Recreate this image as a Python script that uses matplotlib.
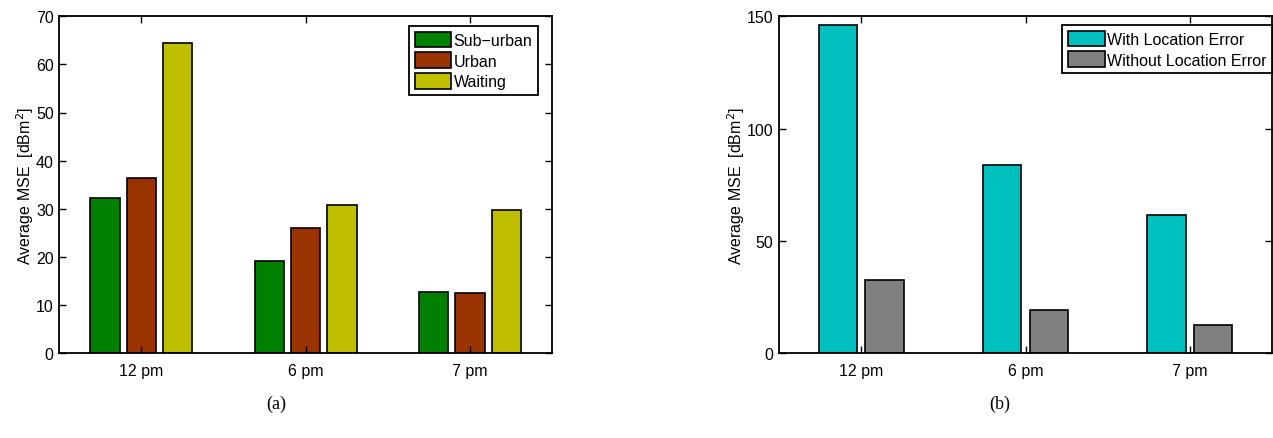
import matplotlib.pyplot as plt
import numpy as np

plt.rcParams['font.family'] = ['Liberation Sans', 'DejaVu Sans']

# time slots
hours = ['12 pm', '6 pm', '7 pm']

# panel (a): average MSE by area type
suburban = [32.3, 19.2, 12.6]
urban = [36.3, 25.9, 12.4]
waiting = [64.5, 30.8, 29.8]

# panel (b): with / without location error
with_err = [146.3, 83.7, 61.3]
without_err = [32.3, 19.2, 12.6]

W, H = 1273, 439
fig = plt.figure(figsize=(W / 100, H / 100), dpi=100, facecolor='white')

def px_axes(x0, x1, y0, y1):
    return fig.add_axes([x0 / W, 1 - y1 / H, (x1 - x0) / W, (y1 - y0) / H])

def style(ax):
    ax.tick_params(direction='in', length=5, width=1, labelsize=11.5,
                   top=True, right=True, pad=4)
    ax.tick_params(axis='x', pad=7)
    for s in ax.spines.values():
        s.set_linewidth(1.3)
    ax.set_xlim(0.5, 3.5)
    ax.set_xticks([1, 2, 3])
    ax.set_xticklabels(hours)

legkw = dict(loc='upper right', borderaxespad=0, fontsize=11.5, fancybox=False,
             edgecolor='black', framealpha=1, handlelength=2.3, handleheight=1.1,
             handletextpad=0.15, labelspacing=0.3, borderpad=0.35)

x = np.arange(1, 4)

# ---- (a)
ax1 = px_axes(59.3, 552, 17.3, 354)
w = 0.178
for off, vals, col, lab in [(-0.222, suburban, '#008000', 'Sub\u2212urban'),
                            (0.0, urban, '#993300', 'Urban'),
                            (0.222, waiting, '#bfbf00', 'Waiting')]:
    ax1.bar(x + off, vals, w, color=col, edgecolor='black', linewidth=1.2, label=lab)
ax1.set_ylim(0, 70)
ax1.set_yticks(range(0, 71, 10))
style(ax1)
ax1.set_ylabel(r'Average MSE  [dBm$^2$]', fontsize=11.5)
ax1.yaxis.set_label_coords((36 - 59.3) / 492.7, 0.5)
leg1 = ax1.legend(bbox_to_anchor=((538 - 59.3) / 492.7, 1 - (27 - 17.3) / 336.7), **legkw)
leg1.get_frame().set_linewidth(1.3)

# ---- (b)
ax2 = px_axes(779, 1272, 17.3, 354)
w2 = 0.232
ax2.bar(x - 0.142, with_err, w2, color='#00bfbf', edgecolor='black', linewidth=1.2,
        label='With Location Error')
ax2.bar(x + 0.142, without_err, w2, color='#808080', edgecolor='black', linewidth=1.2,
        label='Without Location Error')
ax2.set_ylim(0, 150)
ax2.set_yticks([0, 50, 100, 150])
style(ax2)
ax2.set_ylabel(r'Average MSE  [dBm$^2$]', fontsize=11.5)
ax2.yaxis.set_label_coords((747 - 779) / 493, 0.5)
leg2 = ax2.legend(bbox_to_anchor=(1.0, 1 - (26 - 17.3) / 336.7), **legkw)
leg2.get_frame().set_linewidth(1.3)

# captions
fig.text(276 / W, 1 - 404 / H, '(a)', ha='center', va='center',
         family=['Liberation Serif'], fontsize=13)
fig.text(1000 / W, 1 - 404 / H, '(b)', ha='center', va='center',
         family=['Liberation Serif'], fontsize=13)

fig.savefig('out.png', dpi=100, facecolor='white')
